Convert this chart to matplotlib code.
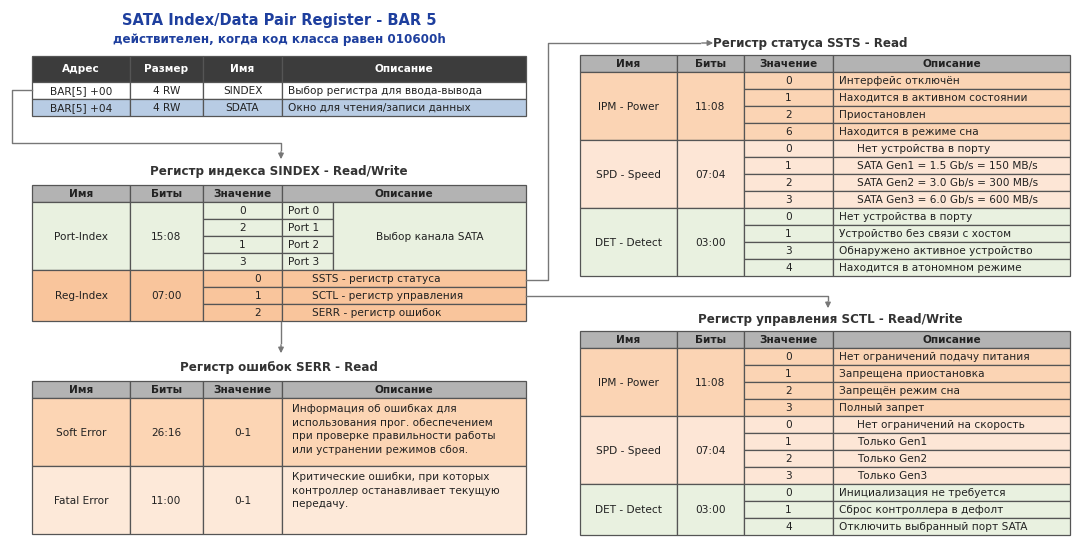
import matplotlib.pyplot as plt
from matplotlib.patches import Rectangle

# ---- data ----
bar_header = ["Адрес", "Размер", "Имя", "Описание"]
bar_rows = [
    ["BAR[5] +00", "4 RW", "SINDEX", "Выбор регистра для ввода-вывода"],
    ["BAR[5] +04", "4 RW", "SDATA", "Окно для чтения/записи данных"],
]
reg_header = ["Имя", "Биты", "Значение", "Описание"]

sindex_fields = [
    ("Port-Index", "15:08", ["0", "2", "1", "3"], ["Port 0", "Port 1", "Port 2", "Port 3"], "Выбор канала SATA"),
    ("Reg-Index", "07:00", ["0", "1", "2"],
     ["SSTS - регистр статуса", "SCTL - регистр управления", "SERR - регистр ошибок"], None),
]

serr_fields = [
    ("Soft Error", "26:16", "0-1",
     "Информация об ошибках для\nиспользования прог. обеспечением\nпри проверке правильности работы\nили устранении режимов сбоя."),
    ("Fatal Error", "11:00", "0-1",
     "Критические ошибки, при которых\nконтроллер останавливает текущую\nпередачу."),
]

ssts_fields = [
    ("IPM - Power", "11:08", ["0", "1", "2", "6"],
     ["Интерфейс отключён", "Находится в активном состоянии", "Приостановлен", "Находится в режиме сна"]),
    ("SPD - Speed", "07:04", ["0", "1", "2", "3"],
     ["Нет устройства в порту", "SATA Gen1 = 1.5 Gb/s = 150 MB/s",
      "SATA Gen2 = 3.0 Gb/s = 300 MB/s", "SATA Gen3 = 6.0 Gb/s = 600 MB/s"]),
    ("DET - Detect", "03:00", ["0", "1", "3", "4"],
     ["Нет устройства в порту", "Устройство без связи с хостом",
      "Обнаружено активное устройство", "Находится в атономном режиме"]),
]

sctl_fields = [
    ("IPM - Power", "11:08", ["0", "1", "2", "3"],
     ["Нет ограничений подачу питания", "Запрещена приостановка", "Запрещён режим сна", "Полный запрет"]),
    ("SPD - Speed", "07:04", ["0", "1", "2", "3"],
     ["Нет ограничений на скорость", "Только Gen1", "Только Gen2", "Только Gen3"]),
    ("DET - Detect", "03:00", ["0", "1", "4"],
     ["Инициализация не требуется", "Сброс контроллера в дефолт", "Отключить выбранный порт SATA"]),
]

# ---- styles ----
GRID = "#555555"
HEAD = "#b3b3b3"
ORANGE = "#f9c59c"
PEACH = "#fde6d6"
GREEN = "#e9f1e0"
FS = 7.6
RH = 17

fig = plt.figure(figsize=(10.82, 5.46), dpi=100)
ax = fig.add_axes([0, 0, 1, 1])
ax.set_xlim(0, 1082)
ax.set_ylim(546, 0)
ax.axis("off")


def cell(x0, y0, x1, y1, fc, text="", ha="center", bold=False, color="#222222", pad=6):
    ax.add_patch(Rectangle((x0, y0), x1 - x0, y1 - y0, facecolor=fc, edgecolor=GRID, lw=0.9))
    if text:
        tx = (x0 + x1) / 2 if ha == "center" else x0 + pad
        ax.text(tx, (y0 + y1) / 2 + 0.5, text, ha=ha, va="center", fontsize=FS,
                fontweight="bold" if bold else "normal", color=color, linespacing=1.35)


def header(cols, y, labels, fc=HEAD, color="#222222", h=RH):
    for i, lab in enumerate(labels):
        cell(cols[i], y, cols[i + 1], y + h, fc, lab, bold=True, color=color)


def title(x, y, s):
    ax.text(x, y, s, ha="center", va="center", fontsize=8.6, fontweight="bold", color="#333333")


def field_table(cols, y, fields, colors, indent=()):
    header(cols, y, reg_header)
    y += RH
    for k, (name, bits, vals, descs) in enumerate(fields):
        n = len(vals)
        cell(cols[0], y, cols[1], y + n * RH, colors[k], name)
        cell(cols[1], y, cols[2], y + n * RH, colors[k], bits)
        for j in range(n):
            yy = y + j * RH
            cell(cols[2], yy, cols[3], yy + RH, colors[k], vals[j])
            cell(cols[3], yy, cols[4], yy + RH, colors[k], descs[j], ha="left",
                 pad=24 if k in indent else 6)
        y += n * RH


# main title
ax.text(279, 21, "SATA Index/Data Pair Register - BAR 5", ha="center", va="center",
        fontsize=10.5, fontweight="bold", color="#1e3f9e")
ax.text(279, 40, "действителен, когда код класса равен 010600h", ha="center", va="center",
        fontsize=8.6, fontweight="bold", color="#1e3f9e")

# BAR table
cols = [32, 130, 203, 282, 526]
header(cols, 56, bar_header, fc="#3c3c3c", color="white", h=26)
for i, row in enumerate(bar_rows):
    y = 82 + i * RH
    fc = "white" if i == 0 else "#b8cce4"
    for c in range(4):
        cell(cols[c], y, cols[c + 1], y + RH, fc, row[c], ha="left" if c == 3 else "center")

# SINDEX table
title(279, 172, "Регистр индекса SINDEX - Read/Write")
header(cols, 185, reg_header)
y = 202
for k, (name, bits, vals, descs, common) in enumerate(sindex_fields):
    fc = GREEN if k == 0 else ORANGE
    n = len(vals)
    cell(cols[0], y, cols[1], y + n * RH, fc, name)
    cell(cols[1], y, cols[2], y + n * RH, fc, bits)
    for j in range(n):
        yy = y + j * RH
        if common:
            cell(cols[2], yy, cols[3], yy + RH, fc, vals[j])
            cell(cols[3], yy, 333, yy + RH, fc, descs[j], ha="left")
        else:
            cell(cols[2], yy, cols[3], yy + RH, fc)
            ax.text(258, yy + RH / 2 + 0.5, vals[j], ha="center", va="center", fontsize=FS, color="#222222")
            cell(cols[3], yy, cols[4], yy + RH, fc, descs[j], ha="left", pad=30)
    if common:
        cell(333, y, cols[4], y + n * RH, fc, common)
    y += n * RH

# SERR table
title(279, 368, "Регистр ошибок SERR - Read")
header(cols, 381, reg_header)
y = 398
for k, (name, bits, val, desc) in enumerate(serr_fields):
    fc = "#fcd5b4" if k == 0 else "#fde9d9"
    cell(cols[0], y, cols[1], y + 68, fc, name)
    cell(cols[1], y, cols[2], y + 68, fc, bits)
    cell(cols[2], y, cols[3], y + 68, fc, val)
    ax.add_patch(Rectangle((cols[3], y), cols[4] - cols[3], 68, facecolor=fc, edgecolor=GRID, lw=0.9))
    ax.text(cols[3] + 10, y + 6, desc, ha="left", va="top", fontsize=FS, color="#222222", linespacing=1.45)
    y += 68

# SSTS / SCTL tables
cols2 = [580, 677, 744, 833, 1070]
title(810, 43, "Регистр статуса SSTS - Read")
field_table(cols2, 55, ssts_fields, ["#fbd4b4", PEACH, GREEN], indent=(1,))
title(830, 319, "Регистр управления SCTL - Read/Write")
field_table(cols2, 331, sctl_fields, ["#fbd4b4", PEACH, GREEN], indent=(1,))

# connectors
lk = dict(color="#777777", lw=1)
ak = dict(arrowstyle="-|>", color="#777777", lw=1, mutation_scale=8)
ax.plot([32, 12, 12, 281, 281], [90, 90, 143, 143, 150], **lk)
ax.annotate("", xy=(281, 162), xytext=(281, 149), arrowprops=ak)
ax.plot([526, 548, 548, 700], [280, 280, 43, 43], **lk)
ax.annotate("", xy=(716, 43), xytext=(699, 43), arrowprops=ak)
ax.plot([526, 828, 828], [296, 296, 300], **lk)
ax.annotate("", xy=(828, 311), xytext=(828, 299), arrowprops=ak)
ax.plot([281, 281], [322, 343], **lk)
ax.annotate("", xy=(281, 356), xytext=(281, 342), arrowprops=ak)

fig.savefig("out.png", dpi=100)
